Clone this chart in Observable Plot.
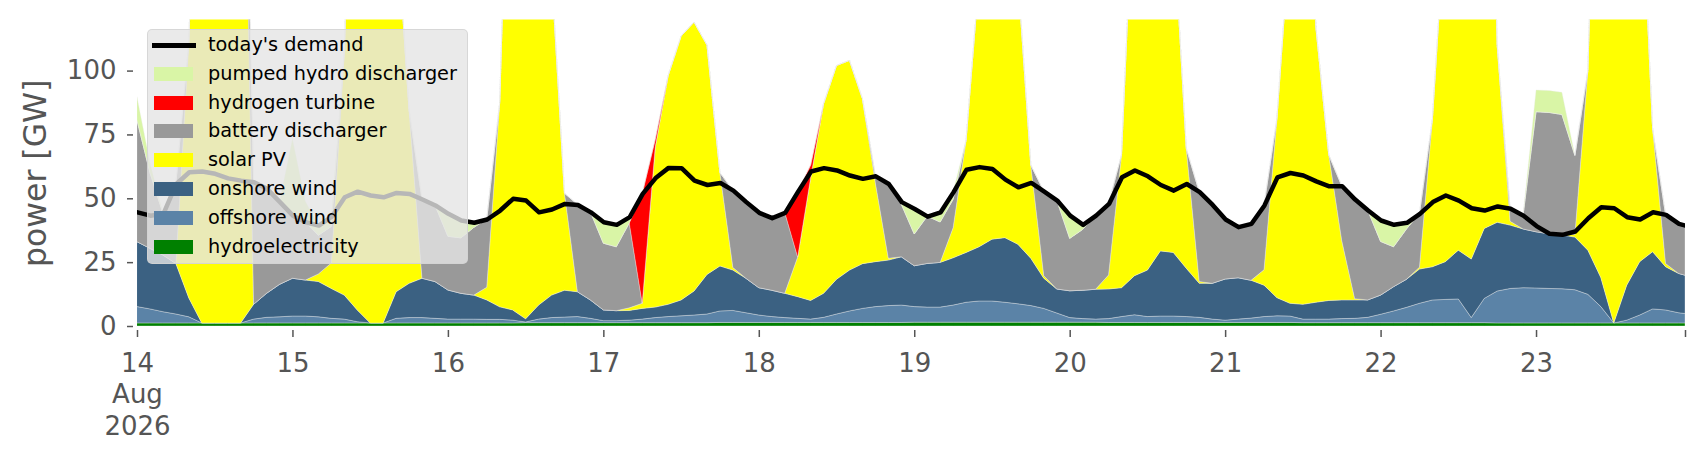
<!DOCTYPE html>
<html>
<head>
<meta charset="utf-8">
<script src="https://cdn.jsdelivr.net/npm/d3@7"></script>
<script src="https://cdn.jsdelivr.net/npm/@observablehq/plot@0.6"></script>
<style>
html,body{margin:0;padding:0;background:#fff;}
#wrap{position:relative;width:1706px;height:460px;font-family:"DejaVu Sans",sans-serif;overflow:hidden;}
#legend{position:absolute;left:147px;top:29px;width:319px;height:233px;background:rgba(229,229,229,0.8);border:1px solid rgba(210,210,210,0.8);border-radius:5px;}
.sw{position:absolute;left:6px;width:39px;height:14px;}
.ln{position:absolute;left:4px;width:44px;height:5px;background:#000;}
.lab{position:absolute;left:60px;font-size:19.3px;line-height:28px;height:28px;white-space:nowrap;color:#000;}
</style>
</head>
<body>
<div id="wrap"><div id="chart"></div><div id="legend"></div></div>
<script>
// ---- data: 2-hourly readings from 14 Aug 2026 00:00, plus a final 23 Aug 23:00 reading (GW) ----
const hydro = [
 1.2,1.2,1.2,1.2,1.2,1.2,1.2,1.2,1.2,1.2,1.2,1.2,
 1.2,1.2,1.2,1.2,1.2,1.2,1.2,1.2,1.2,1.2,1.2,1.2,
 1.2,1.2,1.2,1.2,1.2,1.2,1.3,1.3,1.3,1.3,1.3,1.3,
 1.3,1.3,1.3,1.3,1.3,1.3,1.3,1.3,1.3,1.4,1.4,1.4,
 1.4,1.4,1.4,1.4,1.4,1.4,1.4,1.4,1.4,1.4,1.4,1.4,
 1.5,1.5,1.5,1.5,1.5,1.5,1.5,1.5,1.5,1.5,1.5,1.5,
 1.5,1.5,1.5,1.4,1.4,1.4,1.4,1.4,1.4,1.4,1.4,1.4,
 1.4,1.4,1.4,1.4,1.4,1.4,1.3,1.3,1.3,1.3,1.3,1.3,
 1.3,1.3,1.3,1.3,1.3,1.3,1.3,1.3,1.3,1.2,1.2,1.2,
 1.2,1.2,1.2,1.2,1.2,1.2,1.2,1.2,1.2,1.2,1.2,1.2,1.2];
const offshore = [
 6.4,5.5,4.4,3.5,2.4,0,0,0,0,1.5,2.2,2.4,
 2.7,2.7,2.4,1.8,1.5,0.5,0,0,1.8,2.1,2.1,1.8,
 1.5,1.5,1.5,1.4,1.4,1.1,0.3,1.4,2,2.2,2.4,1.7,
 0.8,0.8,1,1.4,2,2.4,2.7,3,3.4,4.5,4.7,3.8,
 2.9,2.3,1.9,1.6,1.3,2,3.3,4.5,5.5,6.2,6.6,6.8,
 6.1,5.9,5.9,6.7,7.8,8.3,8.3,7.8,7.2,6.5,5.4,3.6,
 1.8,1.4,1.2,1.5,2.3,3,2.3,2.5,2.5,2.3,2,1.3,
 0.9,1.3,1.7,2.3,2.6,2.5,1.4,1.4,1.4,1.6,1.7,2.1,
 3.3,4.6,6,7.6,8.9,9.1,9.3,2,9.5,12.5,13.5,13.8,
 13.7,13.5,13.4,13,11.2,6.4,0,1.1,3.1,5.5,5.1,4,3.7];
const onshore = [
 25.4,23.7,22.2,19.8,7.4,0,0,0,0,5.8,9.4,12.7,
 14.8,14.1,13.8,11.7,9.4,4.6,0,0,10.4,13.4,15.4,14.4,
 11.4,10.1,9.4,7.6,4.9,4,1.2,5.5,8.8,10.5,9.7,7.2,
 4.2,3.9,3.8,4.2,4.1,4.8,6.2,9.4,15.5,17.6,15.8,13.5,
 10.7,10.3,9.5,8.5,7.3,9.4,13.6,16,17.5,17.6,17.8,18.9,
 16,17.1,17.5,18.5,19.5,21.2,24.2,25.3,23.3,18.5,11.8,9.4,
 10.5,11.1,11.7,11.6,11.3,15.3,18.2,25.5,24.9,18.9,13.3,14,
 16.1,16.2,14.8,12.3,7.1,5,5.8,6.6,7.3,7.3,7.2,6.8,
 7.5,9.5,11,13.4,13,14.8,19.1,22.9,27.4,26.9,24.8,23,
 22,21.4,21,20.6,17.3,11.4,0,13.7,20.9,22.4,16.9,15.4,15];
const solar = [
 0,0,0,0,100,260,320,320,290,0,0,0,
 0,0,3,10,95,250,320,300,148,68,0,0,
 0,0,0,5,80,250,300,280,126,38,0,0,
 0,0,1,2,62.6,89.5,103.3,105.3,89.8,36.5,1,0,
 0,0,0,15.5,48,74.2,83.7,82.1,64.6,30.8,0.7,0,
 0,0,0,11.8,43.9,105,300,300,105,36.5,1,0,
 0,0,0,5.5,52,162,300,300,130,47,0.7,0,
 0,0,0,6,70.2,144,300,108,57,23.3,0.5,0,
 0,0,0,0.7,57.8,136,300,300,300,69.4,1.5,0,
 0,0,0,1,70.3,250,300,300,163,48.3,1.3,0,0];
const battery = [
 47.6,29.6,16.3,31.3,0,0,0,0,0,48,41.1,32.4,
 24.7,22.8,15.1,14.3,0,0,0,0,0,0,31,30,
 21,21.7,26.5,26.7,0,0,0,0,0,0,34.2,34.5,
 26.1,25,33.2,0,0,0,0,0,0,0,30.3,30,
 29.5,28.4,31.7,0,0,0,0,0,0,2.8,29.3,20.6,
 12.4,18.5,15.8,11.1,0,0,0,0,0,0,33.1,34.8,
 20.5,23.8,29,28,0,0,0,0,0,0,35.2,30.9,
 23.5,20,22.3,25.4,0,0,0,0,0,21.4,39,35.2,
 21,15.6,19.7,21.1,0,0,0,0,0,0,5,5.4,
 47,47.5,47.2,31,0,0,0,0,0,0,19.2,19.6,19.6];
const hydrogen = [
 0,0,0,0,0,0,0,0,0,0,0,0,
 0,0,0,0,0,0,0,0,0,0,0,0,
 0,0,0,0,0,0,0,0,0,0,0,0,
 0,0,0,43,3,0,0,0,0,0,0,0,
 0,0,0,25.8,5,0,0,0,0,0,0,0,
 0,0,0,0,0,0,0,0,0,0,0,0,
 0,0,0,0,0,0,0,0,0,0,0,0,
 0,0,0,0,0,0,0,0,0,0,0,0,
 0,0,0,0,0,0,0,0,0,0,0,0,
 0,0,0,0,0,0,0,0,0,0,0,0,0];
const pumped = [
 9.1,4,0,0,0,0,0,0,0,0,0,0,
 30,8,4,4,0,0,0,0,0,0,0,0,
 9,7,2,0,0,0,0,0,0,0,0,0,
 8.4,8.8,2.5,0,0,0,0,0,0,0,0,0,
 0,0,0,0,0,0,0,0,0,0,0,1,
 10,0,4,3,0,0,0,0,0,0,0,0,
 9,2,0,0,0,0,0,0,0,0,0,0,
 0,0,0,0,0,0,0,0,0,0,0,0,
 8.4,8.8,2.6,0,0,0,0,0,0,0,0,0,
 8.5,8.6,8.7,0,0,0,0,0,0,0,0,0,0];
const demand = [
 44.7,43.4,44.1,55.8,60.4,60.7,59.8,58,57.1,56.5,53.9,48.7,
 43.4,40.8,39.5,43,50.6,52.8,51.3,50.6,52.3,51.9,49.7,47.4,
 44.1,41.5,40.6,41.9,45.4,50,49.3,44.7,45.8,48,47.6,44.7,
 40.8,39.8,42.8,51.9,58.1,62.1,62,57.1,55.4,56.2,53.2,48.7,
 44.5,42.4,44.5,52.8,60.7,62,61.1,59.1,57.8,58.8,55.8,48.7,
 46,43,44.7,52.6,61.4,62.4,61.7,57.5,54.5,56.2,52.8,49.3,
 43.4,39.8,43.4,48,58.4,61.1,58.8,55.4,53.2,55.8,52.6,47.6,
 41.9,38.9,40.2,47.4,58.4,60.1,59.1,56.8,54.9,54.9,49.7,45.4,
 41.5,39.8,40.6,44.1,48.7,51.3,49.3,46.3,45.4,47,46.1,43.4,
 39.3,36.3,35.9,37.2,42.4,46.7,46.3,42.8,41.9,44.7,43.7,40.2,39.5];

// stack order bottom -> top
const names  = ["hydroelectricity","offshore wind","onshore wind","solar PV","battery discharger","hydrogen turbine","pumped hydro discharger"];
const colors = ["#008000","#5b83a7","#3b6182","#ffff00","#999999","#ff0000","#d9f5a6"];
const seriesValues = [hydro, offshore, onshore, solar, battery, hydrogen, pumped];
const demandLabel = "today's demand";
const yTicks = [0, 25, 50, 75, 100];
const yLabel = "power [GW]";

// time grid
const start = Date.UTC(2026, 7, 14);
const hours = d3.range(0, 240, 2).concat([239]);
const time = hours.map(h => new Date(start + h * 3600e3));
const end = time[time.length - 1];

const rows = [];
names.forEach((name, s) => seriesValues[s].forEach((v, i) => rows.push({time: time[i], value: v, series: name})));
const demandRows = demand.map((v, i) => ({time: time[i], demand: v}));

const dayTicks = d3.utcDay.range(time[0], end).concat([end]);
const fDay = d3.utcFormat("%-d"), fMon = d3.utcFormat("%b"), fYear = d3.utcFormat("%Y");
const tickFmt = d => (+d === +time[0]) ? `${fDay(d)}\n${fMon(d)}\n${fYear(d)}` : (+d === +end ? "" : fDay(d));

const chart = Plot.plot({
  width: 1706, height: 460,
  marginLeft: 137, marginRight: 21, marginTop: 19.5, marginBottom: 134,
  style: {fontFamily: "DejaVu Sans, sans-serif", color: "#555555", background: "#ffffff"},
  x: {type: "utc", domain: [time[0], end]},
  y: {domain: [0, 120]},
  color: {domain: names, range: colors},
  marks: [
    Plot.areaY(rows, Plot.stackY({x: "time", y: "value", z: "series", fill: "series",
      stroke: "#eeeeee", strokeWidth: 0.45, strokeOpacity: 0.8, clip: true})),
    Plot.lineY(demandRows, {x: "time", y: "demand", stroke: "#000000", strokeWidth: 4.5, clip: true}),
    Plot.axisY({ticks: yTicks, tickSize: 6, tickPadding: 11, dx: -4, fontSize: 26, strokeWidth: 1.5, label: null}),
    Plot.axisX({ticks: dayTicks, tickFormat: tickFmt, tickSize: 7, tickPadding: 12.5, dy: 4,
      fontSize: 26, lineHeight: 1.2, strokeWidth: 1.5, label: null}),
    Plot.text([yLabel], {frameAnchor: "left", textAnchor: "middle", lineAnchor: "middle",
      rotate: -90, dx: -102, fontSize: 31.5, fill: "#555555"})
  ]
});
document.getElementById("chart").appendChild(chart);

// legend (top of legend = top of stack)
const legend = document.getElementById("legend");
const entries = [{name: demandLabel, line: true}].concat(
  names.map((n, i) => ({name: n, color: colors[i]})).reverse());
entries.forEach((e, i) => {
  const cy = 15 + i * 28.8;
  const h = document.createElement("div");
  if (e.line) { h.className = "ln"; h.style.top = (cy - 2.5) + "px"; }
  else { h.className = "sw"; h.style.top = (cy - 7) + "px"; h.style.background = e.color; }
  legend.appendChild(h);
  const t = document.createElement("div");
  t.className = "lab"; t.style.top = (cy - 14) + "px"; t.textContent = e.name;
  legend.appendChild(t);
});
</script>
</body>
</html>
